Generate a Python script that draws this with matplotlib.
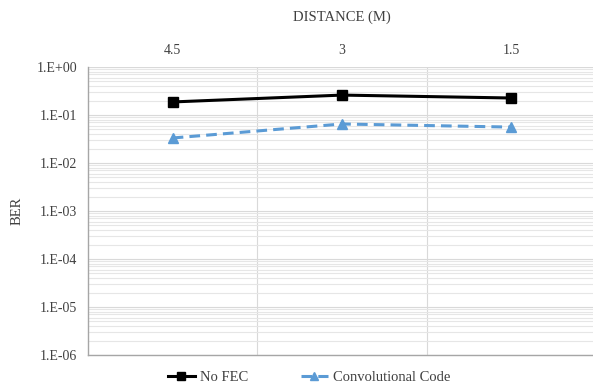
import numpy as np
import matplotlib
matplotlib.use('Agg')
import matplotlib.pyplot as plt
from matplotlib.ticker import LogLocator, FixedLocator

# Data
distances = ['4.5', '3', '1.5']
no_fec = [0.187, 0.26, 0.226]
conv_code = [0.0332, 0.065, 0.056]
y_ticks = [1e0, 1e-1, 1e-2, 1e-3, 1e-4, 1e-5, 1e-6]
y_tick_labels = ['1.E+00', '1.E-01', '1.E-02', '1.E-03', '1.E-04', '1.E-05', '1.E-06']

plt.rcParams['font.family'] = ['Liberation Serif', 'DejaVu Serif']

fig = plt.figure(figsize=(5.93, 3.87), dpi=100)
ax = fig.add_axes([88 / 593, 32 / 387, 508 / 593, 288 / 387])

x = np.arange(len(distances))
ax.plot(x, no_fec, color='black', lw=2.2, marker='s', ms=7, label='No FEC', zorder=3)
ax.plot(x, conv_code, color='#5B9BD5', lw=2.2, ls=(0, (3.5, 2)), marker='^', ms=7,
        label='Convolutional Code', zorder=3)

ax.set_yscale('log')
ax.set_ylim(1e-6, 1)
ax.set_xlim(-0.5, 2.5)

ax.yaxis.set_major_locator(FixedLocator(y_ticks))
ax.set_yticklabels(y_tick_labels)
ax.yaxis.set_minor_locator(LogLocator(base=10, subs=np.arange(2, 10)))
ax.yaxis.set_minor_formatter(plt.NullFormatter())

ax.set_xticks(x)
ax.set_xticklabels(distances)
ax.xaxis.set_ticks_position('top')
ax.xaxis.set_label_position('top')
ax.set_xticks([0.5, 1.5], minor=True)

ax.tick_params(axis='both', which='both', length=0, labelsize=10, colors='#404040')
ax.tick_params(axis='x', pad=7)
ax.tick_params(axis='y', pad=8)

ax.grid(True, which='major', axis='y', color='#d9d9d9', lw=0.8)
ax.grid(True, which='minor', axis='y', color='#e6e6e6', lw=0.8)
ax.grid(True, which='minor', axis='x', color='#d9d9d9', lw=0.8)
ax.grid(False, which='major', axis='x')

for s in ['right', 'top']:
    ax.spines[s].set_visible(False)
for s in ['left', 'bottom']:
    ax.spines[s].set_color('#a6a6a6')
    ax.spines[s].set_linewidth(1)

ax.set_xlabel('DISTANCE (M)', fontsize=10.5, color='#404040', labelpad=17)
ax.set_ylabel('BER', fontsize=10.5, color='#404040', labelpad=9)

fig.legend(loc='center', bbox_to_anchor=(309 / 593, 1 - 377 / 387),
           ncol=2, frameon=False, fontsize=10.5, handlelength=1.85, handletextpad=0.35,
           columnspacing=3.6, labelcolor='#404040', markerscale=0.75)

fig.savefig('out.png', dpi=100)
